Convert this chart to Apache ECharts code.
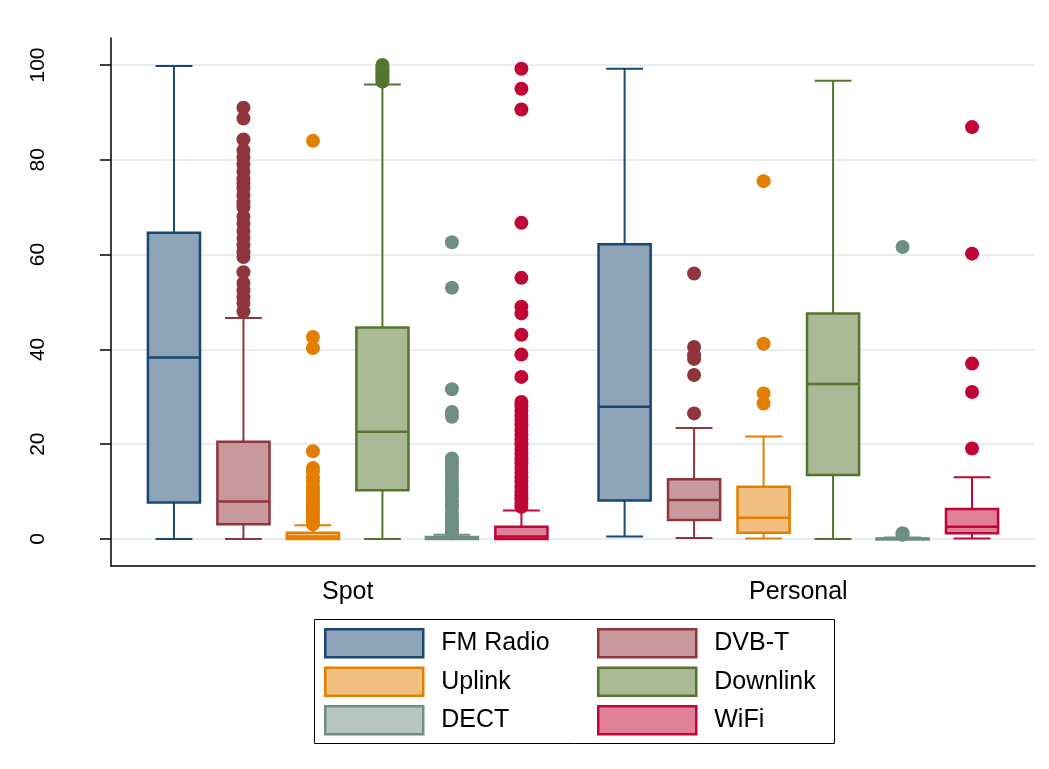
<!DOCTYPE html>
<html>
<head>
<meta charset="utf-8">
<title>Box plot</title>
<script src="https://cdn.jsdelivr.net/npm/echarts@6/dist/echarts.min.js"></script>
<style>
  html, body { margin: 0; padding: 0; background: #fff; }
  #chart { width: 1049px; height: 769px; }
</style>
</head>
<body>
<div id="chart"></div>
<script>
// categories
const groups = ['Spot', 'Personal']
const seriesNames = ['FM Radio', 'DVB-T', 'Uplink', 'Downlink', 'DECT', 'WiFi']
const yTicks = [0, 20, 40, 60, 80, 100]

// box stats per group: [lower whisker, Q1, median, Q3, upper whisker]
const fmRadioBox = [[0, 7.7, 38.3, 64.6, 99.8], [0.5, 8.1, 27.9, 62.2, 99.2]]
const dvbtBox = [[0, 3.1, 7.9, 20.5, 46.6], [0.2, 4.0, 8.2, 12.6, 23.4]]
const uplinkBox = [[0, 0, 0.5, 1.3, 2.9], [0.1, 1.3, 4.5, 11.0, 21.6]]
const downlinkBox = [[0, 10.3, 22.6, 44.6, 95.9], [0, 13.5, 32.7, 47.6, 96.7]]
const dectBox = [[0, 0, 0.1, 0.4, 0.9], [0, 0, 0.05, 0.1, 0.3]]
const wifiBox = [[0, 0, 0.5, 2.6, 6.0], [0.1, 1.2, 2.6, 6.3, 13.0]]

// outliers per group
const fmRadioOut = [[], []]
const dvbtOut = [
  [91, 88.7, 84.3, 82, 80.5, 79, 77.5, 76, 75, 74, 72.5, 71, 70, 68, 66.5, 65, 63.5, 62, 60.5, 59.5, 56.3, 54, 52.5, 51, 49.8, 48],
  [56, 40.5, 38.8, 38, 34.6, 26.5]
]
const uplinkOut = [
  [84, 42.6, 40.3, 18.5, 15, 14.2, 13, 12, 11, 10.2, 9.5, 8.7, 8, 7.2, 6.5, 5.8, 5, 4.3, 3.6, 3.1],
  [75.5, 41.2, 30.7, 28.6]
]
const downlinkOut = [[96.5, 97, 97.5, 98, 98.5, 99, 99.5, 100], []]
const dectOut = [
  [62.6, 53, 31.6, 26.8, 25.8, 17, 16.2, 15.5, 14.5, 13.5, 12.5, 11.5, 10.5, 9.8, 9, 8, 7.2, 6.5, 5.5, 4.8, 4, 3.2, 2.5, 1.8, 1.2],
  [61.6, 1.2, 0.9]
]
const wifiOut = [
  [99.2, 95, 90.6, 66.7, 55.1, 49, 47.6, 43.1, 38.9, 34.2, 28.9, 28, 27, 26, 25, 24, 23, 22, 21, 20, 19, 18, 17, 16, 15, 14, 13, 12, 11, 10, 9.2, 8.4, 7.6, 6.8],
  [86.9, 60.2, 37.0, 31.0, 19.1]
]

const boxes = [fmRadioBox, dvbtBox, uplinkBox, downlinkBox, dectBox, wifiBox]
const outliers = [fmRadioOut, dvbtOut, uplinkOut, downlinkOut, dectOut, wifiOut]

// stata s2color: line colour and lighter fill
const lineColors = ['#1a476f', '#90353b', '#e37e00', '#55752f', '#6e8e84', '#c10534']
const fillColors = ['#8ca3b8', '#c8999c', '#f1bf80', '#aab995', '#b7c6c1', '#e07f98']

// layout on the hidden x scale: one unit between boxes, groups further apart
const GROUP_GAP = 6.485
const BOX_W = 0.75
const CAP_W = 0.53
const xPos = (g, s) => g * GROUP_GAP + s
const groupCenters = groups.map((_, g) => xPos(g, 2.5))

const chart = echarts.init(document.getElementById('chart'))

const renderBox = (params, api) => {
  const x = api.value(0)
  const lo = api.coord([x, api.value(1)])
  const q1 = api.coord([x, api.value(2)])
  const med = api.coord([x, api.value(3)])
  const q3 = api.coord([x, api.value(4)])
  const hi = api.coord([x, api.value(5)])
  const halfW = api.size([BOX_W, 0])[0] / 2
  const capHalf = api.size([CAP_W, 0])[0] / 2
  const s = params.seriesIndex
  const line = { stroke: lineColors[s], lineWidth: 2 }
  return {
    type: 'group',
    children: [
      { type: 'line', shape: { x1: lo[0], y1: q1[1], x2: lo[0], y2: lo[1] }, style: line },
      { type: 'line', shape: { x1: hi[0], y1: q3[1], x2: hi[0], y2: hi[1] }, style: line },
      { type: 'line', shape: { x1: lo[0] - capHalf, y1: lo[1], x2: lo[0] + capHalf, y2: lo[1] }, style: line },
      { type: 'line', shape: { x1: hi[0] - capHalf, y1: hi[1], x2: hi[0] + capHalf, y2: hi[1] }, style: line },
      {
        type: 'rect',
        shape: { x: q3[0] - halfW, y: q3[1], width: halfW * 2, height: Math.max(q1[1] - q3[1], 1) },
        style: { fill: fillColors[s], stroke: lineColors[s], lineWidth: 2.5 }
      },
      { type: 'line', shape: { x1: med[0] - halfW, y1: med[1], x2: med[0] + halfW, y2: med[1] }, style: { stroke: lineColors[s], lineWidth: 2.5 } }
    ]
  }
}

const series = []
seriesNames.forEach((name, s) => {
  series.push({
    name: name,
    type: 'custom',
    renderItem: renderBox,
    encode: { x: 0, y: [1, 2, 3, 4, 5] },
    data: groups.map((_, g) => [xPos(g, s), ...boxes[s][g]]),
    z: 2
  })
})
seriesNames.forEach((name, s) => {
  const pts = []
  groups.forEach((_, g) => {
    outliers[s][g].forEach((v) => pts.push([xPos(g, s), v]))
  })
  series.push({
    name: name,
    type: 'scatter',
    symbol: 'circle',
    symbolSize: 14,
    itemStyle: { color: lineColors[s], opacity: 1 },
    data: pts,
    z: 3
  })
})

const legendItem = (i) => ({
  name: seriesNames[i],
  icon: 'rect',
  itemStyle: { color: fillColors[i], borderColor: lineColors[i], borderWidth: 2.5 }
})
const legendBase = {
  orient: 'vertical',
  top: 628,
  padding: 0,
  itemWidth: 98,
  itemHeight: 28,
  itemGap: 8,
  selectedMode: false,
  textStyle: { fontFamily: 'Liberation Sans', fontSize: 25, color: '#000', padding: [0, 0, 0, 13] }
}

const option = {
  animation: false,
  backgroundColor: '#fff',
  grid: { left: 111, right: 14, top: 38, bottom: 203 },
  xAxis: {
    type: 'value',
    min: -0.906,
    max: GROUP_GAP + 5 + 0.906,
    axisLine: { show: true, onZero: false, lineStyle: { color: '#000', width: 1.5 } },
    axisTick: { show: false },
    splitLine: { show: false },
    axisLabel: {
      customValues: groupCenters,
      formatter: (v) => groups[groupCenters.findIndex((c) => Math.abs(c - v) < 1e-6)] || '',
      fontFamily: 'Liberation Sans',
      fontSize: 25,
      color: '#000',
      margin: 14
    }
  },
  yAxis: {
    type: 'value',
    min: -5.7,
    max: 105.7,
    axisLine: { show: true, onZero: false, lineStyle: { color: '#000', width: 1.5 } },
    axisTick: { show: true, length: 11, customValues: yTicks, lineStyle: { color: '#000', width: 1.5 } },
    axisLabel: {
      customValues: yTicks,
      rotate: 90,
      fontFamily: 'Liberation Sans',
      fontSize: 21,
      color: '#000',
      margin: 62
    },
    splitLine: { show: true, lineStyle: { color: '#e8eff2', width: 2 } }
  },
  legend: [
    Object.assign({}, legendBase, { left: 324, data: [0, 2, 4].map(legendItem) }),
    Object.assign({}, legendBase, { left: 597, data: [1, 3, 5].map(legendItem) })
  ],
  graphic: [
    {
      type: 'rect',
      left: 312,
      top: 617,
      shape: { width: 520, height: 124 },
      style: { fill: 'none', stroke: '#000', lineWidth: 1 }
    }
  ],
  series: series
}

chart.setOption(option)
</script>
</body>
</html>
